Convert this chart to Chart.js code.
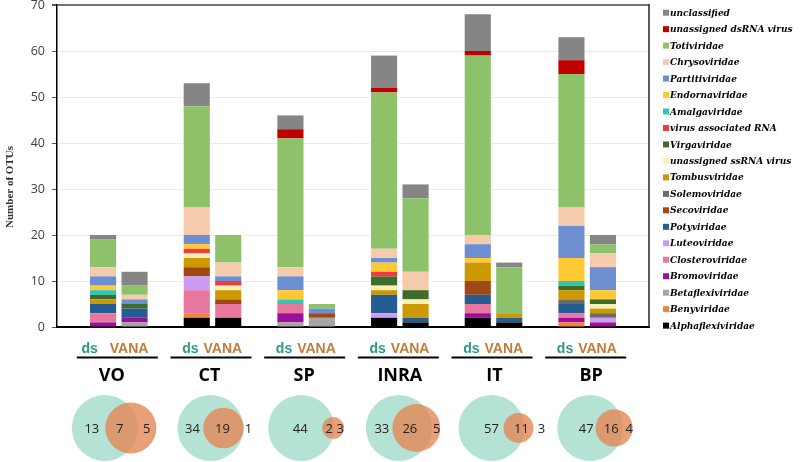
<!DOCTYPE html>
<html>
<head>
<meta charset="utf-8">
<script src="https://cdn.jsdelivr.net/npm/chart.js@4"></script>
<style>
  html, body { margin: 0; padding: 0; background: #fff; }
  #wrap { width: 800px; height: 462px; }
</style>
</head>
<body>
<div id="wrap"><canvas id="otuChart" width="800" height="462"></canvas></div>
<script>
// sites, each one has a ds bar and a VANA bar
const sites = ["VO", "CT", "SP", "INRA", "IT", "BP"];
const yTicks = [0, 10, 20, 30, 40, 50, 60, 70];

// families, bottom of the stack first
const families = [
  "Alphaflexiviridae", "Benyviridae", "Betaflexiviridae", "Bromoviridae",
  "Closteroviridae", "Luteoviridae", "Potyviridae", "Secoviridae",
  "Solemoviridae", "Tombusviridae", "unassigned ssRNA virus", "Virgaviridae",
  "virus associated RNA", "Amalgaviridae", "Endornaviridae", "Partitiviridae",
  "Chrysoviridae", "Totiviridae", "unassigned dsRNA virus", "unclassified"
];
const familyColors = [
  "#000000", "#f0843a", "#a6a6a6", "#9b0f9b",
  "#e7779f", "#cc9cf5", "#255d93", "#9e4814",
  "#6a6a6a", "#cc9900", "#f8efb4", "#3f6b2b",
  "#ef3b3b", "#2fc6b6", "#ffc933", "#6b8fd1",
  "#f6cbab", "#8dc16a", "#c00000", "#858585"
];

// OTU counts per family (rows) and site (columns)
const dsOTUs = [
  [0, 2, 0, 2, 2, 0],
  [0, 1, 0, 0, 0, 1],
  [0, 0, 1, 0, 0, 0],
  [1, 0, 2, 0, 1, 1],
  [2, 5, 2, 0, 2, 1],
  [0, 3, 0, 1, 0, 0],
  [2, 0, 0, 4, 2, 2],
  [0, 2, 0, 0, 3, 0],
  [0, 0, 0, 0, 0, 1],
  [1, 2, 0, 1, 4, 2],
  [0, 1, 0, 1, 0, 0],
  [1, 0, 0, 2, 0, 1],
  [0, 1, 0, 1, 0, 0],
  [1, 0, 1, 0, 0, 1],
  [1, 1, 2, 2, 1, 5],
  [2, 2, 3, 1, 3, 7],
  [2, 6, 2, 2, 2, 4],
  [6, 22, 28, 34, 39, 29],
  [0, 0, 2, 1, 1, 3],
  [1, 5, 3, 7, 8, 5]
];
const vanaOTUs = [
  [0, 2, 0, 1, 1, 0],
  [0, 0, 0, 0, 0, 0],
  [1, 0, 2, 0, 0, 0],
  [1, 0, 0, 0, 0, 1],
  [0, 3, 0, 0, 0, 0],
  [0, 0, 0, 0, 0, 1],
  [2, 0, 0, 1, 1, 0],
  [0, 1, 1, 0, 0, 0],
  [0, 0, 0, 0, 0, 1],
  [0, 2, 0, 3, 1, 1],
  [0, 1, 0, 1, 0, 1],
  [1, 0, 0, 2, 0, 1],
  [0, 1, 0, 0, 0, 0],
  [0, 0, 0, 0, 0, 0],
  [0, 0, 0, 0, 0, 2],
  [1, 1, 1, 0, 0, 5],
  [1, 3, 0, 4, 0, 3],
  [2, 6, 1, 16, 10, 2],
  [0, 0, 0, 0, 0, 0],
  [3, 0, 0, 3, 1, 2]
];

// venn counts: only ds, shared, only VANA
const dsOnly = [13, 34, 44, 33, 57, 47];
const shared = [7, 19, 2, 26, 11, 16];
const vanaOnly = [5, 1, 3, 5, 3, 4];

// layout of the venn pictures, px from the site centre
const dsCircleDx = [-14, -2, -5, -1, -2, 3];
const vanaCircleDx = [12, 11, 27, 16.5, 25, 27];
const numDx = [[-27, 1, 28], [-20, 10, 36], [-6, 23, 34], [-18, 10, 37], [-2, 28, 48], [-1, 24, 42]];
const nameDx = [-7, -3, -2, 0, 1, 4];

const half = 0.168; // ds / VANA offset, in site units

const datasets = families.map((name, f) => ({
  label: name,
  backgroundColor: familyColors[f],
  borderWidth: 0,
  barPercentage: 0.83,
  categoryPercentage: 1,
  data: sites.flatMap((s, i) => [
    { x: i - half, y: dsOTUs[f][i] },
    { x: i + half, y: vanaOTUs[f][i] }
  ])
}));

const extras = {
  id: "extras",
  afterDraw(chart) {
    const { ctx, chartArea: a } = chart;
    const x = chart.scales.x;

    // right edge of the frame
    ctx.save();
    ctx.strokeStyle = "#262626";
    ctx.lineWidth = 1.5;
    ctx.beginPath();
    ctx.moveTo(a.right, a.top - 1);
    ctx.lineTo(a.right, a.bottom);
    ctx.stroke();

    // y title
    ctx.translate(10, 187);
    ctx.rotate(-Math.PI / 2);
    ctx.font = "bold 11px 'Liberation Serif'";
    ctx.fillStyle = "#333";
    ctx.textAlign = "center";
    ctx.textBaseline = "middle";
    ctx.fillText("Number of OTUs", 0, 0);
    ctx.restore();

    // legend, top of the stack first
    ctx.save();
    ctx.font = "italic bold 10px 'DejaVu Serif Condensed', 'DejaVu Serif'";
    if ("fontStretch" in ctx) ctx.fontStretch = "condensed";
    ctx.textBaseline = "middle";
    ctx.textAlign = "left";
    for (let k = 0; k < families.length; k++) {
      const f = families.length - 1 - k;
      const y = 12.7 + k * 16.47;
      ctx.fillStyle = familyColors[f];
      ctx.fillRect(663, y - 3, 6, 6);
      ctx.fillStyle = "#000";
      ctx.fillText(families[f], 670, y + 0.5);
    }
    ctx.restore();

    // labels and venn under each site
    sites.forEach((site, i) => {
      const c = x.getPixelForValue(i);
      ctx.save();
      ctx.font = "bold 14px 'Liberation Sans'";
      ctx.textBaseline = "middle";
      ctx.textAlign = "right";
      ctx.fillStyle = "#2a9a80";
      ctx.fillText("ds", c - (i === 0 ? 21 : 14), 349);
      ctx.textAlign = "left";
      ctx.fillStyle = "#c27a35";
      ctx.fillText("VANA", c - 9, 349);

      ctx.strokeStyle = "#000";
      ctx.lineWidth = 2;
      ctx.beginPath();
      ctx.moveTo(c - 42, 357.5);
      ctx.lineTo(c + 39, 357.5);
      ctx.stroke();

      ctx.font = "bold 18px 'Open Sans'";
      ctx.textAlign = "center";
      ctx.fillStyle = "#000";
      ctx.fillText(site, c + nameDx[i], 376);

      const dsTotal = dsOnly[i] + shared[i];
      const vanaTotal = shared[i] + vanaOnly[i];
      const r1 = 33;
      const r2 = r1 * Math.sqrt(vanaTotal / dsTotal);
      ctx.fillStyle = "#b4e2d4";
      ctx.beginPath();
      ctx.arc(c + dsCircleDx[i], 428, r1, 0, Math.PI * 2);
      ctx.fill();
      ctx.fillStyle = "rgba(228,135,85,0.8)";
      ctx.beginPath();
      ctx.arc(c + vanaCircleDx[i], 428, r2, 0, Math.PI * 2);
      ctx.fill();

      ctx.font = "13px 'Open Sans'";
      ctx.fillStyle = "#222";
      [dsOnly[i], shared[i], vanaOnly[i]].forEach((v, j) => {
        ctx.fillText(String(v), c + numDx[i][j], 429);
      });
      ctx.restore();
    });
  }
};

new Chart(document.getElementById("otuChart").getContext("2d"), {
  type: "bar",
  data: { datasets },
  plugins: [extras],
  options: {
    responsive: false,
    animation: false,
    layout: { padding: { left: 0, right: 151, top: 5, bottom: 135 } },
    plugins: { legend: { display: false }, tooltip: { enabled: false } },
    scales: {
      x: {
        type: "linear",
        stacked: true,
        offset: false,
        min: -0.66,
        max: 5.66,
        grid: { display: false },
        ticks: { display: false },
        border: { display: true, color: "#000", width: 2 },
        afterFit(s) { s.height = 0; s.paddingLeft = 0; s.paddingRight = 0; }
      },
      y: {
        stacked: true,
        min: 0,
        max: 70,
        afterBuildTicks(s) { s.ticks = yTicks.map(v => ({ value: v })); },
        afterFit(s) { s.width = 57; s.paddingTop = 0; s.paddingBottom = 0; },
        grid: {
          color: c => c.tick && c.tick.value === 70 ? "#737373" : "#ececec",
          lineWidth: c => c.tick && c.tick.value === 70 ? 2 : 1,
          tickLength: 5,
          tickColor: "#555"
        },
        border: { color: "#000", width: 1.5 },
        ticks: {
          padding: 7,
          color: "#404040",
          font: { family: "'Open Sans'", size: 12.5 }
        }
      }
    }
  }
});
</script>
</body>
</html>
